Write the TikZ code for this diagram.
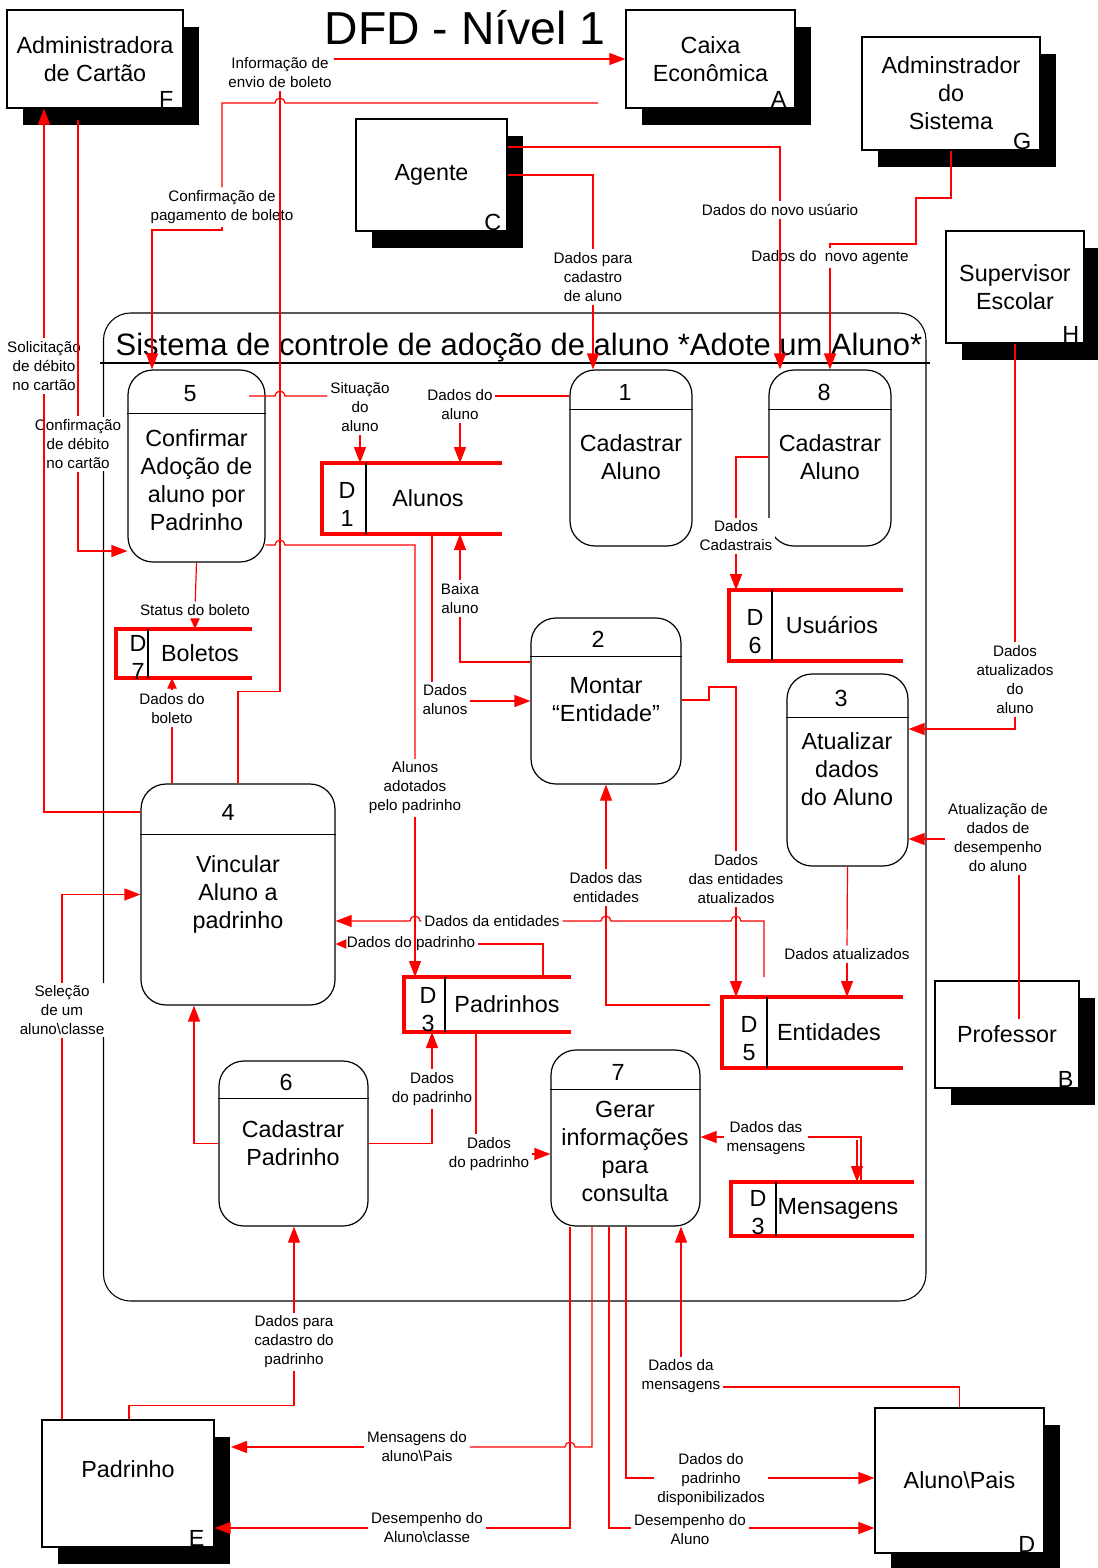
\documentclass[tikz,border=0pt]{standalone}
\usepackage{fontspec}
\setmainfont{Liberation Sans}
\usetikzlibrary{arrows.meta,shadows,calc}
\begin{document}
\begin{tikzpicture}[x=0.75pt,y=-0.75pt,
  lbl/.style={font=\fontsize{11.4}{14.25}\selectfont, align=center, inner sep=2pt},
  opaque/.style={fill=white},
  big/.style={font=\fontsize{17.5}{21}\selectfont, align=center, inner sep=0pt},
  entity/.style={draw=black, line width=0.9pt, fill=white, inner sep=0pt, align=center,
     font=\fontsize{17.5}{21}\selectfont,
     drop shadow={shadow xshift=12pt, shadow yshift=-12.75pt, fill=black, opacity=1}},
  proc/.style={draw=black, line width=0.9pt, fill=white, rounded corners=18.75pt, inner sep=0pt},
  store/.style={inner sep=0pt, outer sep=0pt},
  storeline/.style={draw=red, line width=3pt},
  blk/.style={draw=black, line width=0.9pt},
  flow/.style={draw=red, line width=0.9pt},
  arr/.style={flow, -{Triangle[length=12pt,width=9pt]}},
  arrs/.style={flow, -{Triangle[length=8pt,width=7pt]}}
]
\fill[white] (0,0) rectangle (1097,1568);
\useasboundingbox (0,0) rectangle (1097,1568);

% helper coordinates
\coordinate (y147) at (0,147);
\coordinate (y396) at (0,396);
\coordinate (y457) at (0,457);
\coordinate (y545) at (0,545);
\coordinate (y551) at (0,551);
\coordinate (y662) at (0,662);
\coordinate (y700) at (0,700);
\coordinate (y729) at (0,729);
\coordinate (y812) at (0,812);
\coordinate (y839) at (0,839);
\coordinate (y921) at (0,921);
\coordinate (y1137) at (0,1137);
\coordinate (y1154) at (0,1154);
\coordinate (y1387) at (0,1387);
\coordinate (y1447) at (0,1447);
\coordinate (y1478) at (0,1478);
\coordinate (y1528) at (0,1528);
\coordinate (x129) at (129,0);
\coordinate (x194) at (194,0);
\coordinate (x432) at (432,0);
\coordinate (x476) at (476,0);
\coordinate (x543) at (543,0);
\coordinate (x570) at (570,0);
\coordinate (x592) at (592,0);
\coordinate (x609) at (609,0);
\coordinate (x626) at (626,0);
\coordinate (x861) at (861,0);
\coordinate (c2s) at (598,103);
\coordinate (c2b) at (152,230);
\coordinate (c5a) at (916,198);
\coordinate (c5b) at (830,244);
\coordinate (c7s) at (1019,1019);
\coordinate (c9s) at (249,396);
\coordinate (c16s) at (78,120);
\coordinate (c22s) at (764,977);
\coordinate (c23s) at (710,1005);
\coordinate (c24a) at (709,687);
\coordinate (c27b) at (857,1140);
\coordinate (cEsh) at (231,1447);

% title and system boundary
\node[font=\fontsize{34.7}{40}\selectfont, anchor=base, inner sep=0pt] (title) at (465,44) {DFD - Nível 1};
\draw[draw=black, line width=0.8pt, rounded corners=20.25pt] (103.5,313) rectangle (926,1301);
\draw[draw=black, line width=1.1pt] (100,363) -- (930,363);
\node[font=\fontsize{23.2}{28}\selectfont, anchor=base, inner sep=0pt] (systitle) at (519,355) {Sistema de controle de adoção de aluno *Adote um Aluno*};

% external entities
\node[entity, minimum width=132pt, minimum height=73.5pt] (eF) at (95,59) {Administradora\\de Cartão};
\node[entity, minimum width=126.75pt, minimum height=73.5pt] (eA) at (710.5,59) {Caixa\\Econômica};
\node[entity, minimum width=113.25pt, minimum height=84pt] (eC) at (431.5,175) {Agente};
\node[entity, minimum width=133.5pt, minimum height=84.75pt] (eG) at (951,93.5) {Adminstrador\\do\\Sistema};
\node[entity, minimum width=103.5pt, minimum height=84pt] (eH) at (1015,287) {Supervisor\\Escolar};
\node[entity, minimum width=108pt, minimum height=80.25pt] (eB) at (1007,1034.5) {Professor};
\node[entity, minimum width=129pt, minimum height=95.25pt] (eE) at (128,1483.5) {};
\node[big] (eEt) at (128,1469) {Padrinho};
\node[entity, minimum width=126.75pt, minimum height=108.75pt] (eD) at (959.5,1480.5) {Aluno\textbackslash Pais};

\node[big, anchor=base east] (eFk) at ($(eF.south east)+(-10,-1)$) {F};
\node[big, anchor=base east] (eAk) at ($(eA.south east)+(-9,-1)$) {A};
\node[big, anchor=base east] (eCk) at ($(eC.south east)+(-6,-1)$) {C};
\node[big, anchor=base east] (eGk) at ($(eG.south east)+(-9,-1)$) {G};
\node[big, anchor=base east] (eHk) at ($(eH.south east)+(-5,-1)$) {H};
\node[big, anchor=base east] (eBk) at ($(eB.south east)+(-6,-1)$) {B};
\node[big, anchor=base east] (eEk) at ($(eE.south east)+(-10,-1)$) {E};
\node[big, anchor=base east] (eDk) at ($(eD.south east)+(-9,-1)$) {D};

% processes
\node[proc, minimum width=102.75pt, minimum height=144pt] (p5) at (196.5,466) {};
\draw[blk] ($(p5.north west)+(0,44)$) -- ($(p5.north east)+(0,44)$);
\node[big] (p5n) at (190,394) {5};
\node[big] (p5t) at (196.5,480) {Confirmar\\Adoção de\\aluno por\\Padrinho};

\node[proc, minimum width=91.5pt, minimum height=132pt] (p1) at (631,458) {};
\draw[blk] ($(p1.north west)+(0,40)$) -- ($(p1.north east)+(0,40)$);
\node[big] (p1n) at (625,392) {1};
\node[big] (p1t) at (631,457) {Cadastrar\\Aluno};

\node[proc, minimum width=91.5pt, minimum height=132pt] (p8) at (830,458) {};
\draw[blk] ($(p8.north west)+(0,40)$) -- ($(p8.north east)+(0,40)$);
\node[big] (p8n) at (824,392) {8};
\node[big] (p8t) at (830,457) {Cadastrar\\Aluno};

\node[proc, minimum width=112.5pt, minimum height=124.5pt] (p2) at (606,701) {};
\draw[blk] ($(p2.north west)+(0,39)$) -- ($(p2.north east)+(0,39)$);
\node[big] (p2n) at (598,639) {2};
\node[big] (p2t) at (606,700) {Montar\\“Entidade”};

\node[proc, minimum width=90.75pt, minimum height=144pt] (p3) at (847.5,770) {};
\draw[blk] ($(p3.north west)+(0,44)$) -- ($(p3.north east)+(0,44)$);
\node[big] (p3n) at (841,698) {3};
\node[big] (p3t) at (847,769) {Atualizar\\dados\\do Aluno};

\node[proc, minimum width=145.5pt, minimum height=165.75pt] (p4) at (238,894.5) {};
\draw[blk] ($(p4.north west)+(0,51)$) -- ($(p4.north east)+(0,51)$);
\node[big] (p4n) at (228,812) {4};
\node[big] (p4t) at (238,894) {Vincular\\Aluno a\\padrinho};

\node[proc, minimum width=111.75pt, minimum height=123.75pt] (p6) at (293.5,1143.5) {};
\draw[blk] ($(p6.north west)+(0,38)$) -- ($(p6.north east)+(0,38)$);
\node[big] (p6n) at (286,1082) {6};
\node[big] (p6t) at (293,1143) {Cadastrar\\Padrinho};

\node[proc, minimum width=111.75pt, minimum height=132pt] (p7) at (625.5,1138) {};
\draw[blk] ($(p7.north west)+(0,40)$) -- ($(p7.north east)+(0,40)$);
\node[big] (p7n) at (618,1072) {7};
\node[big] (p7t) at (625,1151.5) {Gerar\\informações\\para\\consulta};

% data stores
\node[store, minimum width=135pt, minimum height=53.25pt] (d1) at (412,498.5) {};
\draw[storeline] (d1.north east) -- (d1.north west) -- (d1.south west) -- (d1.south east);
\draw[blk] ($(d1.north west)+(44,0)$) -- ($(d1.south west)+(44,0)$);
\node[big] (d1k) at (347,504.5) {D\\1};
\node[big] (d1t) at (428,498) {Alunos};

\node[store, minimum width=102pt, minimum height=36.75pt] (d7) at (184,653.5) {};
\draw[storeline] (d7.north east) -- (d7.north west) -- (d7.south west) -- (d7.south east);
\draw[blk] ($(d7.north west)+(32,0)$) -- ($(d7.south west)+(32,0)$);
\node[big] (d7k) at (138,657) {D\\7};
\node[big] (d7t) at (200,653) {Boletos};

\node[store, minimum width=130.5pt, minimum height=53.25pt] (d6) at (816,625.5) {};
\draw[storeline] (d6.north east) -- (d6.north west) -- (d6.south west) -- (d6.south east);
\draw[blk] ($(d6.north west)+(43,0)$) -- ($(d6.south west)+(43,0)$);
\node[big] (d6k) at (755,632) {D\\6};
\node[big] (d6t) at (832,625) {Usuários};

\node[store, minimum width=125.25pt, minimum height=41.25pt] (d3) at (487.5,1004.5) {};
\draw[storeline] (d3.north east) -- (d3.north west) -- (d3.south west) -- (d3.south east);
\draw[blk] ($(d3.north west)+(41,0)$) -- ($(d3.south west)+(41,0)$);
\node[big] (d3k) at (428,1009.5) {D\\3};
\node[big] (d3t) at (507,1004) {Padrinhos};

\node[store, minimum width=135.75pt, minimum height=53.25pt] (d5) at (812.5,1032.5) {};
\draw[storeline] (d5.north east) -- (d5.north west) -- (d5.south west) -- (d5.south east);
\draw[blk] ($(d5.north west)+(45,0)$) -- ($(d5.south west)+(45,0)$);
\node[big] (d5k) at (749,1039) {D\\5};
\node[big] (d5t) at (829,1032) {Entidades};

\node[store, minimum width=137.25pt, minimum height=40.5pt] (dm) at (822.5,1209) {};
\draw[storeline] (dm.north east) -- (dm.north west) -- (dm.south west) -- (dm.south east);
\draw[blk] ($(dm.north west)+(45,0)$) -- ($(dm.south west)+(45,0)$);
\node[big] (dmk) at (758,1213) {D\\3};
\node[big] (dmt) at (838,1209) {Mensagens};

% labels
\node[lbl] (l1) at (280,72.5) {Informação de\\envio de boleto};
\node[lbl] (l2) at (222,207) {Confirmação de\\pagamento de boleto};
\node[lbl] (l3) at (593,277) {Dados para\\cadastro\\de aluno};
\node[lbl] (l4) at (780,210) {Dados do novo usúario};
\node[lbl] (l5) at (830,258) {Dados do\ \ novo agente};
\node[lbl] (l6) at (1015,679.5) {Dados\\atualizados\\do\\aluno};
\node[lbl] (l7) at (998,838) {Atualização de\\dados de\\desempenho\\do aluno};
\node[lbl] (l8) at (460,404.5) {Dados do\\aluno};
\node[lbl] (l9) at (360,407) {Situação\\do\\aluno};
\node[lbl] (l10) at (415,788) {Alunos\\adotados\\pelo padrinho};
\node[lbl] (l11) at (445,700) {Dados\\alunos};
\node[lbl] (l12) at (460,598.5) {Baixa\\aluno};
\node[lbl] (l13) at (195,610) {Status do boleto};
\node[lbl] (l14) at (172,708.5) {Dados do\\boleto};
\node[lbl] (l15) at (44,366) {Solicitação\\de débito\\no cartão};
\node[lbl, opaque] (l16) at (78,444) {Confirmação\\de débito\\no cartão};
\node[lbl, opaque] (l17) at (62,1010) {Seleção\\de um\\aluno\textbackslash classe};
\node[lbl] (l19) at (432,1089) {Dados\\do padrinho};
\node[lbl] (l20) at (489,1154) {Dados\\do padrinho};
\node[lbl] (l21) at (411,944) {Dados do padrinho};
\node[lbl] (l22) at (492,921) {Dados da entidades};
\node[lbl] (l23) at (606,887.5) {Dados das\\entidades};
\node[lbl] (l24) at (736,879) {Dados\\das entidades\\atualizados};
\node[lbl] (l25) at (847,954) {Dados atualizados};
\node[lbl, opaque] (l26) at (736,536) {Dados\\Cadastrais};
\node[lbl] (l27) at (766,1138) {Dados das\\mensagens};
\node[lbl] (l28) at (681,1376) {Dados da\\mensagens};
\node[lbl] (l29) at (417,1447) {Mensagens do\\aluno\textbackslash Pais};
\node[lbl] (l30) at (427,1528) {Desempenho do\\Aluno\textbackslash classe};
\node[lbl] (l31) at (711,1480) {Dados do\\padrinho\\disponibilizados};
\node[lbl] (l32) at (690,1530) {Desempenho do\\Aluno};
\node[lbl] (l33) at (294,1342) {Dados para\\cadastro do\\padrinho};

% connectors
% 4 -> A
\draw[flow] (p4.north) -- ++(0,-92) -| (l1);
\draw[arr] (l1.east |- eA.west) -- (eA.west);
% A -> 5
\draw[flow] (c2s) -- (285,103) arc[start angle=0,end angle=180,radius=3.75pt] -- (222,103) -- (l2);
\draw[arr] (l2.south) |- (c2b) -- (p5.north -| c2b);
% C -> 1
\draw[flow] (eC.east) -| (l3);
\draw[arr] (l3) -- (p1.north -| l3);
% C -> 8
\draw[flow] (eC.east |- y147) -| (l4);
\draw[arr] (l4) -- (p8.north -| l4);
% G -> 8
\draw[flow] (eG.south) |- (c5a) |- (c5b) -- (l5);
\draw[arr] (l5) -- (p8.north -| l5);
% H -> 3
\draw[flow] (eH.south) -- (l6);
\draw[arr] (l6) |- (p3.east |- y729);
% B -> 3
\draw[flow] (c7s) -- (l7.south -| c7s);
\draw[arr] (l7.west |- y839) -- (p3.east |- y839);
% 1 -> D1
\draw[flow] (p1.west |- y396) -- (l8.east |- y396);
\draw[arr] (l8) -- (d1.north -| l8);
% 5 -> D1
\draw[flow] (c9s) -- (275,396) arc[start angle=180,end angle=0,radius=3.75pt] -- (l9.west |- y396);
\draw[arr] (l9) -- (d1.north -| l9);
% 5 -> D3
\draw[flow] (p5.east |- y545) -- (275,545) arc[start angle=180,end angle=0,radius=3.75pt] -- (415,545) -- (l10);
\draw[arr] (l10) -- (d3.north -| l10);
% D1 -> 2
\draw[flow] (d1.south -| x432) -- (l11.north -| x432);
\draw[arr] (l11.east |- p2.west) -- (p2.west);
% 2 -> D1
\draw[flow] (p2.west |- y662) -| (l12);
\draw[arr] (l12) -- (d1.south -| l12);
% 5 -> D7
\draw[flow] (p5.south) -- (l13);
\draw[arrs] (l13) -- (d7.north -| l13);
% 4 -> D7
\draw[flow] (p4.north -| l14) -- (l14);
\draw[arrs] (l14) -- (d7.south -| l14);
% 4 -> F
\draw[flow] (p4.west |- y812) -| (l15);
\draw[arr] (l15) -- (eF.south -| l15);
% F -> 5
\draw[flow] (c16s) -- (l16);
\draw[arr] (l16) |- (p5.west |- y551);
% E -> 4
\draw[flow] (eE.north -| l17) -- (l17);
\draw[arr] (l17) |- (p4.west);
% 6 -> 4
\draw[arr] (p6.west) -| (p4.south -| x194);
% 6 -> D3
\draw[flow] (p6.east) -| (l19);
\draw[arr] (l19) -- (d3.south -| l19);
% D3 -> 7
\draw[flow] (d3.south -| x476) -- (l20.north -| x476);
\draw[arr] (l20.east |- y1154) -- (p7.west |- y1154);
% D3 -> 4
\draw[flow] (d3.north -| x543) |- (l21.east);
\draw[arrs] (l21.west) -- (p4.east |- l21.west);
% D5 -> 4
\draw[flow] (c22s) |- (741,921) arc[start angle=0,end angle=180,radius=3.75pt] -- (611,921) arc[start angle=0,end angle=180,radius=3.75pt] -- (l22.east |- y921);
\draw[arr] (l22.west |- y921) -- (420,921) arc[start angle=0,end angle=180,radius=3.75pt] -- (p4.east |- y921);
% D5 -> 2
\draw[flow] (c23s) -| (l23);
\draw[arr] (l23) -- (p2.south -| l23);
% 2 -> D5
\draw[flow] (p2.east |- y700) -| (c24a) -| (l24);
\draw[arr] (l24) -- (d5.north -| l24);
% 3 -> D5
\draw[flow] (p3.south) -- (l25);
\draw[arr] (l25) -- (d5.north -| l25);
% 8 -> D6
\draw[flow] (p8.west |- y457) -| (l26);
\draw[arr] (l26) -- (d6.north -| l26);
% Mensagens <-> 7
\draw[arr] (l27.west |- y1137) -- (p7.east |- y1137);
\draw[flow] (l27.east |- y1137) -| (dm.north -| x861);
\draw[arr] (c27b) -- (dm.north -| c27b);
% D -> 7
\draw[flow] (eD.north) |- (l28.east |- y1387);
\draw[arr] (l28) -- (p7.south -| l28);
% 7 -> E
\draw[flow] (p7.south -| x592) |- (575,1447) arc[start angle=0,end angle=180,radius=3.75pt] -- (l29.east |- y1447);
\draw[arr] (l29.west |- y1447) -- (cEsh);
\draw[flow] (p7.south -| x570) |- (l30.east |- y1528);
\draw[arr] (l30.west |- y1528) -- (eE.east |- y1528);
% 7 -> D
\draw[flow] (p7.south -| x626) |- (l31.west |- y1478);
\draw[arr] (l31.east |- y1478) -- (eD.west |- y1478);
\draw[flow] (p7.south -| x609) |- (l32.west |- y1528);
\draw[arr] (l32.east |- y1528) -- (eD.west |- y1528);
% E -> 6
\draw[flow] (eE.north -| x129) -- ++(0,-14) -| (l33);
\draw[arr] (l33) -- (p6.south -| l33);
\end{tikzpicture}
\end{document}
